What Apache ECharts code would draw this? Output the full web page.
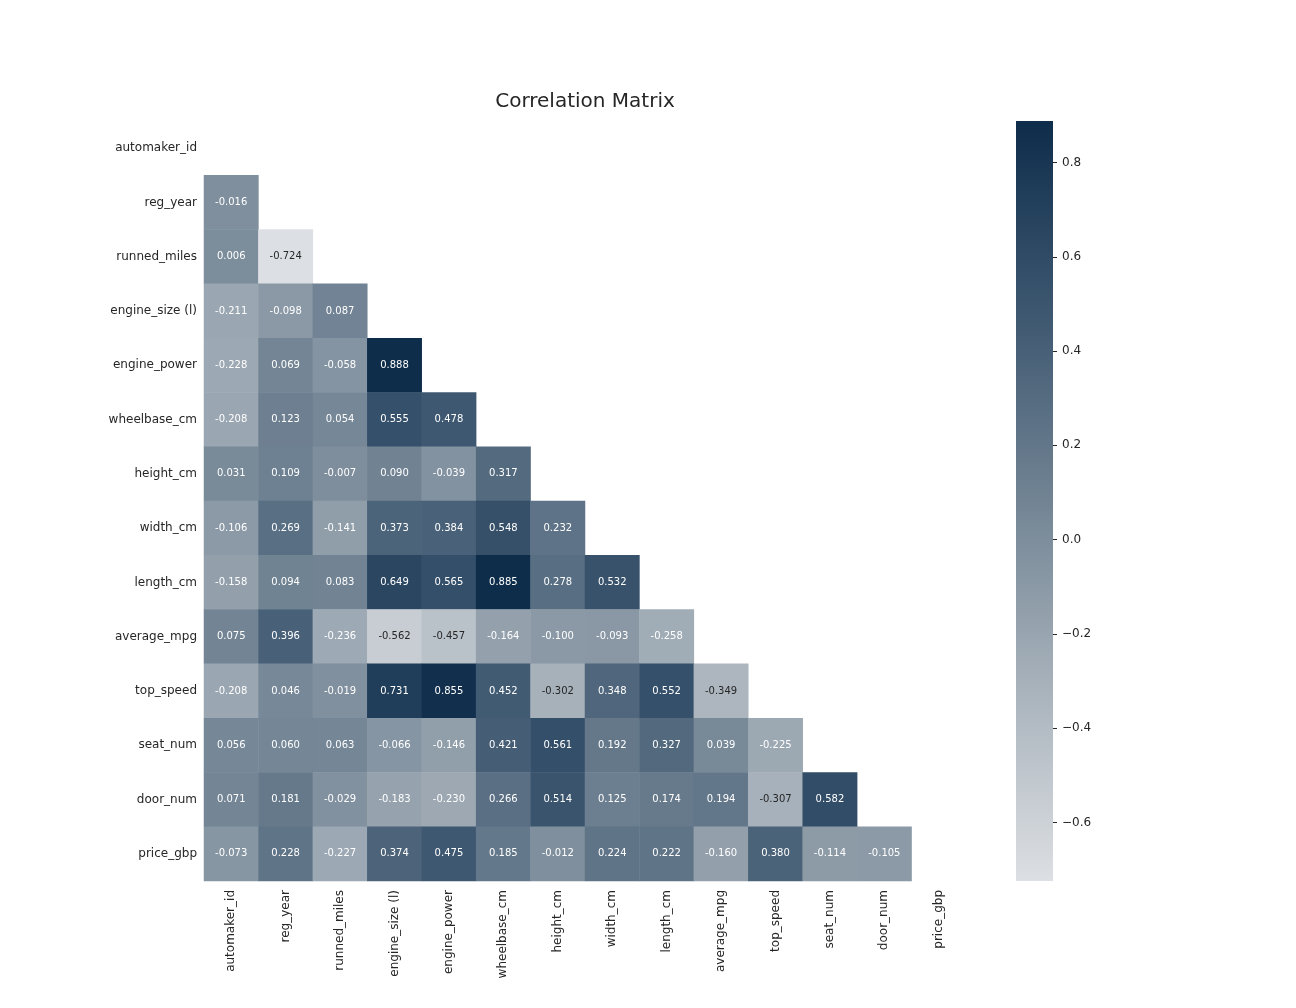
<!DOCTYPE html>
<html>
<head>
<meta charset="utf-8">
<script src="https://cdn.jsdelivr.net/npm/echarts@6/dist/echarts.min.js"></script>
<style>
  html, body { margin: 0; padding: 0; background: #fff; }
  #chart { width: 1296px; height: 1008px; }
</style>
</head>
<body>
<div id="chart"></div>
<script>
// variable names (same order on both axes)
const names = [
  "automaker_id", "reg_year", "runned_miles", "engine_size (l)", "engine_power",
  "wheelbase_cm", "height_cm", "width_cm", "length_cm", "average_mpg",
  "top_speed", "seat_num", "door_num", "price_gbp"
];

// lower triangle, row by row (row i has i values)
const rowRegYear = [-0.016];
const rowRunnedMiles = [0.006, -0.724];
const rowEngineSize = [-0.211, -0.098, 0.087];
const rowEnginePower = [-0.228, 0.069, -0.058, 0.888];
const rowWheelbase = [-0.208, 0.123, 0.054, 0.555, 0.478];
const rowHeight = [0.031, 0.109, -0.007, 0.090, -0.039, 0.317];
const rowWidth = [-0.106, 0.269, -0.141, 0.373, 0.384, 0.548, 0.232];
const rowLength = [-0.158, 0.094, 0.083, 0.649, 0.565, 0.885, 0.278, 0.532];
const rowAvgMpg = [0.075, 0.396, -0.236, -0.562, -0.457, -0.164, -0.100, -0.093, -0.258];
const rowTopSpeed = [-0.208, 0.046, -0.019, 0.731, 0.855, 0.452, -0.302, 0.348, 0.552, -0.349];
const rowSeatNum = [0.056, 0.060, 0.063, -0.066, -0.146, 0.421, 0.561, 0.192, 0.327, 0.039, -0.225];
const rowDoorNum = [0.071, 0.181, -0.029, -0.183, -0.230, 0.266, 0.514, 0.125, 0.174, 0.194, -0.307, 0.582];
const rowPrice = [-0.073, 0.228, -0.227, 0.374, 0.475, 0.185, -0.012, 0.224, 0.222, -0.160, 0.380, -0.114, -0.105];

// colour bar ticks
const cbarTicks = [-0.6, -0.4, -0.2, 0.0, 0.2, 0.4, 0.6, 0.8];
const vMin = -0.724;
const vMax = 0.888;

const rows = [[], rowRegYear, rowRunnedMiles, rowEngineSize, rowEnginePower, rowWheelbase,
  rowHeight, rowWidth, rowLength, rowAvgMpg, rowTopSpeed, rowSeatNum, rowDoorNum, rowPrice];

const cells = [];
rows.forEach((r, i) => {
  r.forEach((v, j) => {
    cells.push({
      value: [j, i, v],
      label: { color: v < -0.28 ? "#262626" : "#ffffff" }
    });
  });
});

// light -> dark
const palette = ["#dcdfe3", "#a9b3bc", "#728494", "#3d5770", "#0e2d4b"];
const txt = "#262626";
const font = "DejaVu Sans";

const myChart = echarts.init(document.getElementById("chart"));
const option = {
  backgroundColor: "#fff",
  animation: false,
  title: {
    text: "Correlation Matrix",
    left: 580,
    top: 87,
    textAlign: "center",
    textStyle: { fontFamily: font, fontSize: 20, fontWeight: "normal", color: txt }
  },
  grid: [
    { left: 204, top: 121, width: 762, height: 760 },
    {
      left: 1016, top: 121, width: 37, height: 760,
      show: true,
      borderWidth: 0,
      // colour bar
      backgroundColor: new echarts.graphic.LinearGradient(0, 1, 0, 0,
        palette.map((c, k) => ({ offset: k / (palette.length - 1), color: c })))
    },
    // thin grid just right of the bar, carries the colour bar ticks
    { left: 1053, top: 121, width: 1, height: 760 }
  ],
  xAxis: [
    {
      type: "category",
      gridIndex: 0,
      data: names,
      axisLine: { show: false },
      axisTick: { show: false },
      splitLine: { show: false },
      axisLabel: { rotate: 90, margin: 9, interval: 0, fontFamily: font, fontSize: 12, color: txt }
    },
    { type: "value", gridIndex: 1, show: false, min: 0, max: 1 },
    { type: "value", gridIndex: 2, show: false, min: 0, max: 1 }
  ],
  yAxis: [
    {
      type: "category",
      gridIndex: 0,
      data: names,
      inverse: true,
      axisLine: { show: false },
      axisTick: { show: false },
      splitLine: { show: false },
      axisLabel: { margin: 7, interval: 0, fontFamily: font, fontSize: 12, color: txt }
    },
    { type: "value", gridIndex: 1, show: false, min: vMin, max: vMax },
    {
      type: "value",
      gridIndex: 2,
      position: "right",
      min: vMin,
      max: vMax,
      axisLine: { show: false },
      splitLine: { show: false },
      axisTick: { show: true, length: 4, customValues: cbarTicks, lineStyle: { color: txt, width: 1 } },
      axisLabel: {
        margin: 8,
        customValues: cbarTicks,
        fontFamily: font,
        fontSize: 12,
        color: txt,
        formatter: v => v.toFixed(1).replace("-", "\u2212")
      }
    }
  ],
  visualMap: {
    type: "continuous",
    show: false,
    min: vMin,
    max: vMax,
    seriesIndex: 0,
    inRange: { color: palette }
  },
  series: [
    {
      type: "heatmap",
      xAxisIndex: 0,
      yAxisIndex: 0,
      data: cells,
      itemStyle: { borderWidth: 0 },
      label: {
        show: true,
        fontFamily: font,
        fontSize: 10,
        formatter: p => p.value[2].toFixed(3)
      },
      emphasis: { disabled: true }
    },
    { type: "scatter", xAxisIndex: 1, yAxisIndex: 1, data: [] },
    { type: "scatter", xAxisIndex: 2, yAxisIndex: 2, data: [] }
  ]
};
myChart.setOption(option);
window.addEventListener("resize", function () {
  myChart.resize();
});
</script>
</body>
</html>
